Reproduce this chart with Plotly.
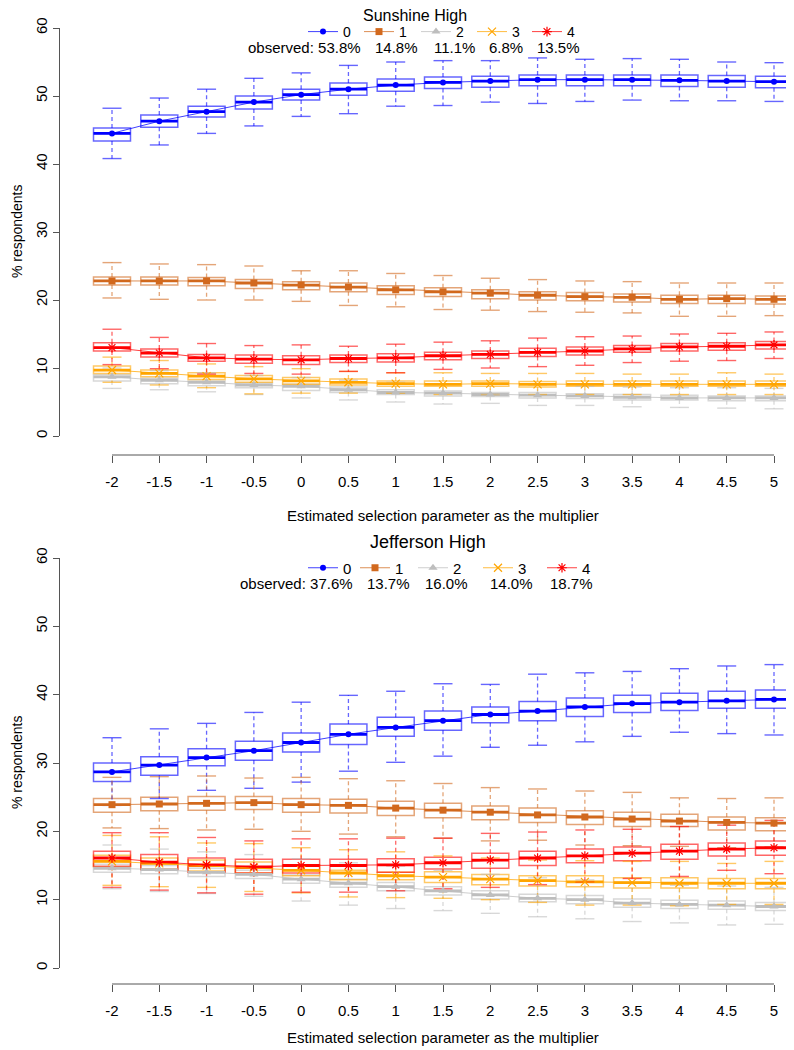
import plotly.graph_objects as go

# ---------------- data ----------------
X = [-2, -1.5, -1, -0.5, 0, 0.5, 1, 1.5, 2, 2.5, 3, 3.5, 4, 4.5, 5]
X_LABELS = ["-2", "-1.5", "-1", "-0.5", "0", "0.5", "1", "1.5", "2", "2.5", "3", "3.5", "4", "4.5", "5"]
Y_TICKS = [0, 10, 20, 30, 40, 50, 60]
CATEGORIES = ["0", "1", "2", "3", "4"]

SUN_OBSERVED = [53.8, 14.8, 11.1, 6.8, 13.5]
JEF_OBSERVED = [37.6, 13.7, 16.0, 14.0, 18.7]

# Sunshine High: simulated % respondents per category (box statistics)
sun_0 = dict(
    lo=[40.8, 42.8, 44.5, 45.6, 47.0, 47.4, 48.5, 48.6, 49.1, 48.9, 49.2, 49.4, 49.3, 49.3, 49.2],
    q1=[43.4, 45.4, 46.9, 48.1, 49.4, 50.1, 50.7, 51.1, 51.3, 51.5, 51.5, 51.5, 51.4, 51.3, 51.2],
    med=[44.5, 46.3, 47.7, 49.1, 50.2, 51.0, 51.6, 52.0, 52.2, 52.4, 52.4, 52.4, 52.3, 52.2, 52.1],
    q3=[45.3, 47.2, 48.5, 50.0, 51.0, 51.9, 52.5, 52.8, 52.9, 53.1, 53.1, 53.1, 53.1, 53.0, 52.9],
    hi=[48.2, 49.7, 51.0, 52.6, 53.4, 54.5, 55.0, 55.2, 55.2, 55.6, 55.4, 55.5, 55.4, 55.0, 54.9],
)
sun_1 = dict(
    lo=[20.3, 20.1, 20.0, 20.0, 19.8, 19.2, 19.0, 18.6, 18.5, 18.3, 18.2, 18.1, 17.6, 17.6, 17.7],
    q1=[22.2, 22.2, 22.1, 21.7, 21.5, 21.2, 20.8, 20.5, 20.2, 20.0, 19.9, 19.7, 19.5, 19.5, 19.4],
    med=[22.8, 22.8, 22.8, 22.5, 22.2, 21.9, 21.5, 21.2, 21.0, 20.7, 20.5, 20.4, 20.1, 20.2, 20.1],
    q3=[23.4, 23.4, 23.3, 23.0, 22.7, 22.5, 22.1, 21.8, 21.5, 21.2, 21.1, 20.9, 20.7, 20.7, 20.6],
    hi=[25.5, 25.3, 25.2, 25.0, 24.3, 24.3, 23.9, 23.6, 23.2, 23.0, 22.8, 22.7, 22.5, 22.5, 22.5],
)
sun_2 = dict(
    lo=[7.0, 6.8, 6.5, 6.1, 5.6, 5.3, 5.0, 4.7, 4.8, 4.5, 4.5, 4.3, 4.2, 4.1, 4.0],
    q1=[8.1, 7.7, 7.4, 7.1, 6.7, 6.4, 6.1, 5.9, 5.8, 5.6, 5.5, 5.3, 5.3, 5.2, 5.2],
    med=[8.7, 8.2, 7.9, 7.5, 7.3, 6.8, 6.4, 6.3, 6.1, 6.0, 5.9, 5.7, 5.6, 5.6, 5.6],
    q3=[9.0, 8.5, 8.1, 7.8, 7.6, 7.2, 6.8, 6.6, 6.4, 6.4, 6.2, 6.1, 6.0, 5.9, 5.9],
    hi=[10.0, 9.6, 9.3, 8.9, 8.6, 8.2, 7.9, 7.7, 7.6, 7.5, 7.3, 7.2, 7.1, 7.1, 7.0],
)
sun_3 = dict(
    lo=[7.9, 7.5, 7.1, 6.2, 6.3, 6.3, 6.3, 6.1, 6.1, 6.1, 6.1, 6.1, 6.1, 6.1, 6.1],
    q1=[9.2, 8.7, 8.3, 7.9, 7.6, 7.5, 7.3, 7.3, 7.3, 7.2, 7.3, 7.3, 7.3, 7.3, 7.3],
    med=[9.7, 9.2, 8.8, 8.4, 8.1, 7.9, 7.7, 7.6, 7.7, 7.6, 7.6, 7.6, 7.6, 7.6, 7.6],
    q3=[10.3, 9.7, 9.3, 8.9, 8.6, 8.4, 8.1, 8.1, 8.1, 8.0, 8.1, 8.1, 8.1, 8.1, 8.1],
    hi=[11.6, 11.1, 10.6, 10.2, 9.9, 9.5, 9.3, 9.3, 9.2, 9.2, 9.2, 9.1, 9.1, 9.3, 9.1],
)
sun_4 = dict(
    lo=[10.5, 9.9, 9.1, 9.2, 9.1, 9.5, 9.3, 9.8, 10.0, 10.2, 10.4, 10.8, 11.0, 11.1, 11.4],
    q1=[12.5, 11.6, 11.0, 10.7, 10.5, 10.8, 10.9, 11.2, 11.4, 11.7, 11.9, 12.3, 12.5, 12.6, 12.8],
    med=[13.0, 12.2, 11.5, 11.3, 11.2, 11.4, 11.5, 11.8, 12.0, 12.3, 12.5, 12.8, 13.1, 13.2, 13.4],
    q3=[13.7, 12.8, 12.0, 11.9, 11.8, 11.9, 12.1, 12.3, 12.5, 12.9, 13.1, 13.3, 13.6, 13.7, 13.9],
    hi=[15.7, 14.5, 13.6, 13.3, 13.4, 13.2, 13.5, 13.8, 14.0, 14.4, 14.6, 14.7, 15.0, 15.1, 15.3],
)

# Jefferson High
jef_0 = dict(
    lo=[23.8, 24.8, 26.0, 26.3, 27.2, 28.8, 30.1, 31.0, 32.3, 32.6, 33.1, 33.9, 34.5, 34.3, 34.1],
    q1=[27.3, 28.2, 29.6, 30.4, 31.6, 32.7, 33.9, 34.8, 35.9, 36.2, 36.8, 37.4, 37.7, 38.0, 38.0],
    med=[28.7, 29.7, 30.8, 31.8, 33.0, 34.2, 35.2, 36.2, 37.1, 37.6, 38.2, 38.7, 38.9, 39.1, 39.3],
    q3=[30.0, 30.9, 32.1, 33.2, 34.4, 35.7, 36.7, 37.6, 38.2, 39.0, 39.5, 39.9, 40.2, 40.5, 40.7],
    hi=[33.7, 35.0, 35.8, 37.4, 38.9, 39.9, 40.5, 41.6, 41.5, 43.0, 43.2, 43.4, 43.8, 44.2, 44.4],
)
jef_1 = dict(
    lo=[20.5, 20.4, 20.2, 20.3, 20.0, 19.6, 19.2, 19.0, 18.6, 18.7, 18.0, 17.9, 17.8, 17.6, 17.7],
    q1=[22.8, 23.0, 23.1, 23.2, 22.8, 22.7, 22.3, 22.0, 21.7, 21.3, 21.0, 20.7, 20.7, 20.2, 20.1],
    med=[23.9, 24.0, 24.1, 24.2, 23.9, 23.8, 23.4, 23.1, 22.8, 22.4, 22.1, 21.8, 21.5, 21.3, 21.2],
    q3=[24.8, 25.0, 25.1, 25.1, 24.8, 24.7, 24.4, 24.1, 23.7, 23.4, 23.0, 22.8, 22.5, 22.1, 22.0],
    hi=[27.9, 28.0, 28.1, 27.8, 27.9, 27.7, 27.4, 27.0, 26.4, 26.2, 25.9, 25.7, 24.9, 24.8, 24.9],
)
jef_2 = dict(
    lo=[11.6, 11.2, 10.9, 10.5, 9.8, 9.2, 8.7, 8.4, 8.0, 7.5, 7.2, 6.8, 6.6, 6.3, 6.4],
    q1=[14.0, 13.8, 13.4, 13.1, 12.4, 11.8, 11.3, 10.7, 10.1, 9.7, 9.4, 8.9, 8.7, 8.6, 8.4],
    med=[14.6, 14.4, 14.0, 13.7, 13.0, 12.4, 11.9, 11.3, 10.7, 10.2, 10.0, 9.5, 9.3, 9.2, 9.0],
    q3=[15.2, 15.0, 14.6, 14.3, 13.6, 13.0, 12.5, 11.9, 11.3, 10.8, 10.6, 10.1, 9.9, 9.8, 9.6],
    hi=[18.0, 17.4, 17.0, 16.6, 16.0, 15.4, 14.9, 14.3, 13.7, 13.2, 12.9, 12.4, 12.1, 12.0, 11.8],
)
jef_3 = dict(
    lo=[12.1, 11.9, 11.8, 11.2, 11.0, 10.4, 10.3, 10.2, 10.0, 9.6, 9.2, 9.2, 9.1, 9.3, 9.3],
    q1=[14.8, 14.5, 14.2, 13.9, 13.5, 12.9, 12.9, 12.5, 12.2, 12.0, 11.9, 11.7, 11.7, 11.6, 11.6],
    med=[15.6, 15.3, 15.0, 14.7, 14.3, 13.9, 13.5, 13.3, 13.0, 12.8, 12.6, 12.5, 12.4, 12.4, 12.4],
    q3=[16.5, 16.1, 15.8, 15.5, 15.1, 14.3, 14.0, 14.1, 13.7, 13.5, 13.5, 13.2, 13.2, 13.1, 13.1],
    hi=[19.4, 19.2, 18.3, 18.2, 17.6, 17.3, 17.0, 16.4, 16.1, 15.8, 15.7, 15.6, 15.6, 15.3, 15.6],
)
jef_4 = dict(
    lo=[11.8, 11.4, 11.0, 10.8, 11.1, 11.1, 11.3, 11.6, 11.8, 12.2, 12.6, 13.1, 13.4, 14.3, 13.8],
    q1=[14.9, 14.4, 14.0, 13.9, 13.9, 13.9, 14.0, 14.5, 14.6, 15.0, 15.4, 15.7, 15.9, 16.4, 16.5],
    med=[16.1, 15.5, 15.1, 14.8, 15.0, 15.0, 15.1, 15.4, 15.8, 16.1, 16.4, 16.8, 17.1, 17.4, 17.6],
    q3=[17.1, 16.6, 16.1, 15.9, 15.9, 15.9, 16.0, 16.2, 16.8, 17.1, 17.4, 17.7, 18.1, 18.3, 18.6],
    hi=[19.8, 19.8, 19.1, 18.6, 18.9, 18.9, 19.0, 19.0, 19.7, 19.9, 20.2, 20.3, 20.7, 20.9, 21.6],
)

SUN_SERIES = [sun_0, sun_1, sun_2, sun_3, sun_4]
JEF_SERIES = [jef_0, jef_1, jef_2, jef_3, jef_4]

# ---------------- styling ----------------
W, H = 794, 1050
PAGE_OFFSET = 8  # the html body margin shifts the figure by 8px in the page
RGB = [(0, 0, 255), (210, 105, 30), (190, 190, 190), (255, 165, 0), (255, 0, 0)]
SYMBOLS = ["circle", "square", "triangle-up", "x-thin", "asterisk"]
MSIZES = [6, 7, 8, 8, 8]
FONT = "Liberation Sans, Arial, sans-serif"
NARROW = "Liberation Sans Narrow, Arial Narrow, Liberation Sans, sans-serif"
AXIS_GRAY = "#555555"

BOX_PX = 37      # box width in px
CAP_PX = 19      # staple width in px
LINE_SYM = 1.4   # plotly's line-ew symbol spans 1.4 x marker size
X_LEFT_PX, X_FIRST_PX, X_LAST_PX, X_RIGHT_PX = 60, 112, 774, 794


def rgba(c, a):
    return "rgba(%d,%d,%d,%.2f)" % (c[0], c[1], c[2], a)


def px_x(p):
    return (p - PAGE_OFFSET) / W


def px_y(p):
    return 1 - (p - PAGE_OFFSET) / H


unit_px = (X_LAST_PX - X_FIRST_PX) / (X[-1] - X[0])
X_RANGE = [X[0] - (X_FIRST_PX - X_LEFT_PX) / unit_px,
           X[-1] + (X_RIGHT_PX - X_LAST_PX) / unit_px]
BOX_W = BOX_PX / unit_px

PANELS = [
    dict(title="Sunshine High", series=SUN_SERIES, observed=SUN_OBSERVED,
         xa="x", ya="y", xkey="xaxis", ykey="yaxis",
         legends=["legend", "legend2", "legend3", "legend4", "legend5"],
         y0=436, y60=28, axis=455, title_y=15, leg_y=32, obs_y=47, xt_y=515, title_x=415,
         title_size=16, leg_size=14,
         label_left=[343, 399, 456, 512, 567], obs_right=[363, 420, 477, 525, 582]),
    dict(title="Jefferson High", series=JEF_SERIES, observed=JEF_OBSERVED,
         xa="x2", ya="y2", xkey="xaxis2", ykey="yaxis2",
         legends=["legend6", "legend7", "legend8", "legend9", "legend10"],
         y0=968, y60=558, axis=984, title_y=542, leg_y=568, obs_y=583, xt_y=1037, title_x=428,
         title_size=18, leg_size=15,
         label_left=[343, 395, 453, 518, 582], obs_right=[355, 412, 470, 535, 595]),
]

fig = go.Figure()
annotations = []
shapes = []

for p in PANELS:
    for k, s in enumerate(p["series"]):
        c = RGB[k]
        # box (Q1 - median - Q3)
        fig.add_trace(go.Box(
            x=X, q1=s["q1"], median=s["med"], q3=s["q3"],
            lowerfence=s["q1"], upperfence=s["q3"],
            width=BOX_W, whiskerwidth=0, boxpoints=False,
            line=dict(color=rgba(c, 0.6), width=1.5),
            fillcolor="rgba(255,255,255,0)",
            xaxis=p["xa"], yaxis=p["ya"], showlegend=False, hoverinfo="skip",
        ))
        # dashed whiskers
        wx, wy = [], []
        for xi, lo, q1, q3, hi in zip(X, s["lo"], s["q1"], s["q3"], s["hi"]):
            wx += [xi, xi, None, xi, xi, None]
            wy += [q3, hi, None, q1, lo, None]
        fig.add_trace(go.Scatter(
            x=wx, y=wy, mode="lines",
            line=dict(color=rgba(c, 0.6), width=1.3, dash="4px,3px"),
            xaxis=p["xa"], yaxis=p["ya"], showlegend=False, hoverinfo="skip",
        ))
        # staples
        fig.add_trace(go.Scatter(
            x=X + X, y=s["lo"] + s["hi"], mode="markers",
            marker=dict(symbol="line-ew", size=CAP_PX / LINE_SYM,
                        line=dict(color=rgba(c, 0.6), width=1.4)),
            xaxis=p["xa"], yaxis=p["ya"], showlegend=False, hoverinfo="skip",
        ))
        # thick median bar
        fig.add_trace(go.Scatter(
            x=X, y=s["med"], mode="markers",
            marker=dict(symbol="line-ew", size=BOX_PX / LINE_SYM,
                        line=dict(color=rgba(c, 1.0), width=2.8)),
            xaxis=p["xa"], yaxis=p["ya"], showlegend=False, hoverinfo="skip",
        ))
    # connecting lines with point symbols (also the legend entries)
    for k, s in enumerate(p["series"]):
        c = RGB[k]
        sym = SYMBOLS[k]
        line_sym = sym in ("x-thin", "asterisk")
        fig.add_trace(go.Scatter(
            x=X, y=s["med"], mode="lines+markers", name=CATEGORIES[k],
            line=dict(color=rgba(c, 0.75), width=1),
            marker=dict(symbol=sym, size=MSIZES[k], color=rgba(c, 1.0),
                        line=dict(color=rgba(c, 1.0), width=1.2 if line_sym else 0)),
            xaxis=p["xa"], yaxis=p["ya"], legend=p["legends"][k], showlegend=True,
            hoverinfo="skip",
        ))

    # title
    annotations.append(dict(text=p["title"], x=px_x(p["title_x"]), y=px_y(p["title_y"]),
                            xref="paper", yref="paper", showarrow=False,
                            xanchor="center", yanchor="middle",
                            font=dict(family=FONT, size=p["title_size"], color="black")))
    # observed row
    for k, v in enumerate(p["observed"]):
        txt = ("observed: %.1f%%" % v) if k == 0 else ("%.1f%%" % v)
        annotations.append(dict(text=txt, x=px_x(p["obs_right"][k]), y=px_y(p["obs_y"]),
                                xref="paper", yref="paper", showarrow=False,
                                xanchor="right", yanchor="middle",
                                font=dict(family=FONT, size=15, color="black")))
    # axis titles
    annotations.append(dict(text="Estimated selection parameter as the multiplier",
                            x=px_x((X_FIRST_PX + X_LAST_PX) / 2), y=px_y(p["xt_y"]),
                            xref="paper", yref="paper", showarrow=False,
                            xanchor="center", yanchor="middle",
                            font=dict(family=NARROW, size=15, color="black")))
    annotations.append(dict(text="% respondents", x=px_x(17),
                            y=px_y((p["y0"] + p["y60"]) / 2),
                            xref="paper", yref="paper", showarrow=False, textangle=-90,
                            xanchor="center", yanchor="middle",
                            font=dict(family=NARROW, size=14, color="black")))
    # detached x axis line spanning first..last tick (R style)
    shapes.append(dict(type="line", xref=p["xa"], yref="paper",
                       x0=X[0], x1=X[-1], y0=px_y(p["axis"]), y1=px_y(p["axis"]),
                       line=dict(color=AXIS_GRAY, width=1)))

layout = dict(
    width=W, height=H, margin=dict(l=0, r=0, t=0, b=0, pad=0, autoexpand=False),
    paper_bgcolor="white", plot_bgcolor="white",
    boxmode="overlay", annotations=annotations, shapes=shapes,
)
for p in PANELS:
    layout[p["xkey"]] = dict(
        domain=[px_x(X_LEFT_PX), px_x(X_RIGHT_PX)], range=X_RANGE, anchor="free",
        automargin=False,
        position=px_y(p["axis"]), showline=False, showgrid=False, zeroline=False,
        ticks="outside", ticklen=7, tickwidth=1, tickcolor=AXIS_GRAY,
        tickvals=X, ticktext=X_LABELS, ticklabelstandoff=6,
        tickfont=dict(family=NARROW, size=15, color="black"),
    )
    layout[p["ykey"]] = dict(
        domain=[px_y(p["y0"]), px_y(p["y60"])], range=[0, 60], anchor=p["xa"],
        automargin=False,
        showline=True, linecolor=AXIS_GRAY, linewidth=1, showgrid=False, zeroline=False,
        ticks="outside", ticklen=6, tickwidth=1, tickcolor=AXIS_GRAY,
        tickvals=Y_TICKS, ticktext=[str(v) for v in Y_TICKS], tickangle=-90,
        tickfont=dict(family=NARROW, size=15, color="black"),
    )
    for k, lg in enumerate(p["legends"]):
        layout[lg] = dict(
            orientation="h", x=px_x(p["label_left"][k] - 40), y=px_y(p["leg_y"]),
            xanchor="left", yanchor="middle", bgcolor="rgba(0,0,0,0)", borderwidth=0,
            itemclick=False, itemdoubleclick=False,
            font=dict(family=FONT, size=p["leg_size"], color="black"),
        )

fig.update_layout(**layout)
fig.write_html("out.html")
